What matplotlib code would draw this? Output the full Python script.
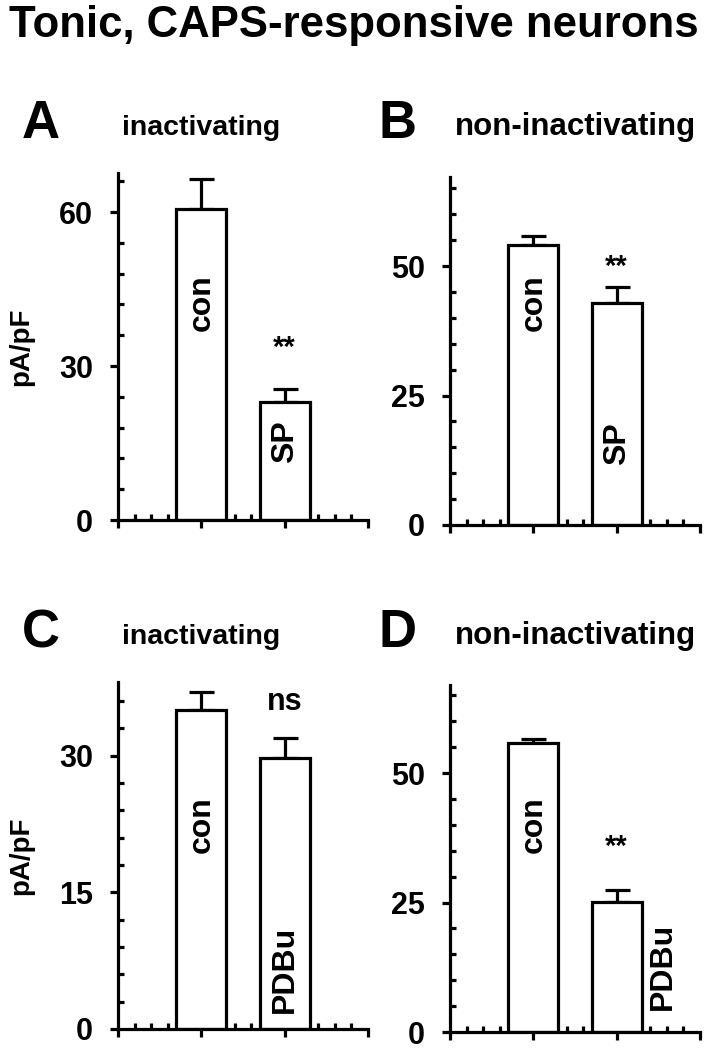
import matplotlib
matplotlib.use('Agg')
import matplotlib.pyplot as plt
import numpy as np

plt.rcParams['font.family'] = ['Liberation Sans', 'DejaVu Sans']
plt.rcParams['font.weight'] = 'bold'

TITLE = 'Tonic, CAPS-responsive neurons'

# panel A: inactivating, SP
conds_a = ['con', 'SP']
means_a = [60.5, 23.0]
errs_a = [6.0, 2.5]

# panel B: non-inactivating, SP
conds_b = ['con', 'SP']
means_b = [54.0, 42.9]
errs_b = [1.8, 3.1]

# panel C: inactivating, PDBu
conds_c = ['con', 'PDBu']
means_c = [35.0, 29.8]
errs_c = [2.0, 2.2]

# panel D: non-inactivating, PDBu
conds_d = ['con', 'PDBu']
means_d = [55.8, 25.1]
errs_d = [0.8, 2.3]

LW = 2.3


def px(x, y, w, h):
    """Axes rect from pixel box (top-left origin)."""
    return [x / 707, 1 - (y + h) / 1050, w / 707, h / 1050]


def draw_panel(ax, means, errs, ymax, major, minor, ylabel=False):
    xs = [5, 10]
    ax.bar(xs, means, width=3, color='white', edgecolor='black', linewidth=LW, zorder=2)
    ax.errorbar(xs, means, yerr=[[0, 0], errs], fmt='none', ecolor='black',
                elinewidth=LW, capsize=9, capthick=LW, zorder=1)
    ax.set_xlim(0, 15)
    ax.set_ylim(0, ymax)
    for side in ['top', 'right']:
        ax.spines[side].set_visible(False)
    for side in ['left', 'bottom']:
        ax.spines[side].set_linewidth(LW)
    ax.set_xticks([0, 5, 10, 15])
    ax.set_xticks([i for i in range(1, 15) if i % 5], minor=True)
    ax.set_xticklabels([])
    ax.set_yticks(major)
    ax.set_yticks([v for v in minor if v not in major], minor=True)
    ax.set_yticklabels([str(v) for v in major], fontsize=22, fontweight='bold')
    ax.tick_params(axis='both', which='major', direction='out', length=6, width=LW, pad=12)
    ax.tick_params(axis='both', which='minor', direction='in', length=4, width=LW)
    if ylabel:
        ax.set_ylabel('pA/pF', fontsize=20, fontweight='bold', labelpad=18)
    ax.patch.set_alpha(0)


def bar_label(ax, x, y, s):
    ax.text(x, y, s, rotation=90, ha='center', va='center', fontsize=23, fontweight='bold')


fig = plt.figure(figsize=(7.07, 10.5), dpi=100)

fig.text(0.5, 1 - 37 / 1050, TITLE, ha='center', va='baseline', fontsize=31.5, fontweight='bold')

ax_a = fig.add_axes(px(118, 173, 250, 347))
draw_panel(ax_a, means_a, errs_a, 67.6, [0, 30, 60], list(range(0, 67, 6)), ylabel=True)
bar_label(ax_a, 5, 42.4, conds_a[0])
bar_label(ax_a, 10, 15.2, conds_a[1])
ax_a.text(10, 33.5, '**', ha='center', va='center', fontsize=21, fontweight='bold')

ax_b = fig.add_axes(px(450, 177, 250, 348))
draw_panel(ax_b, means_b, errs_b, 67.2, [0, 25, 50], list(range(0, 66, 5)))
bar_label(ax_b, 5, 43.0, conds_b[0])
bar_label(ax_b, 10, 15.8, conds_b[1])
ax_b.text(10, 49.8, '**', ha='center', va='center', fontsize=21, fontweight='bold')

ax_c = fig.add_axes(px(118, 682, 250, 347))
draw_panel(ax_c, means_c, errs_c, 38.1, [0, 15, 30], list(range(0, 37, 3)), ylabel=True)
bar_label(ax_c, 5, 22.4, conds_c[0])
bar_label(ax_c, 10, 6.6, conds_c[1])
ax_c.text(10, 35.9, 'ns', ha='center', va='center', fontsize=22, fontweight='bold')

ax_d = fig.add_axes(px(450, 685, 250, 347))
draw_panel(ax_d, means_d, errs_d, 67.0, [0, 25, 50], list(range(0, 66, 5)))
bar_label(ax_d, 5, 40.0, conds_d[0])
bar_label(ax_d, 12.8, 12.7, conds_d[1])
ax_d.text(10, 35.8, '**', ha='center', va='center', fontsize=21, fontweight='bold')

# panel letters and headers
for letter, header, lx, hx, hsize, base in [('A', 'inactivating', 41, 201, 20.5, 138),
                                            ('B', 'non-inactivating', 398, 575, 22.5, 138),
                                            ('C', 'inactivating', 41, 201, 20.5, 647),
                                            ('D', 'non-inactivating', 398, 575, 22.5, 647)]:
    fig.text(lx / 707, 1 - base / 1050, letter, ha='center', va='baseline', fontsize=38, fontweight='bold')
    fig.text(hx / 707, 1 - (base - 3) / 1050, header, ha='center', va='baseline', fontsize=hsize, fontweight='bold')

fig.savefig('out.png', dpi=100)
